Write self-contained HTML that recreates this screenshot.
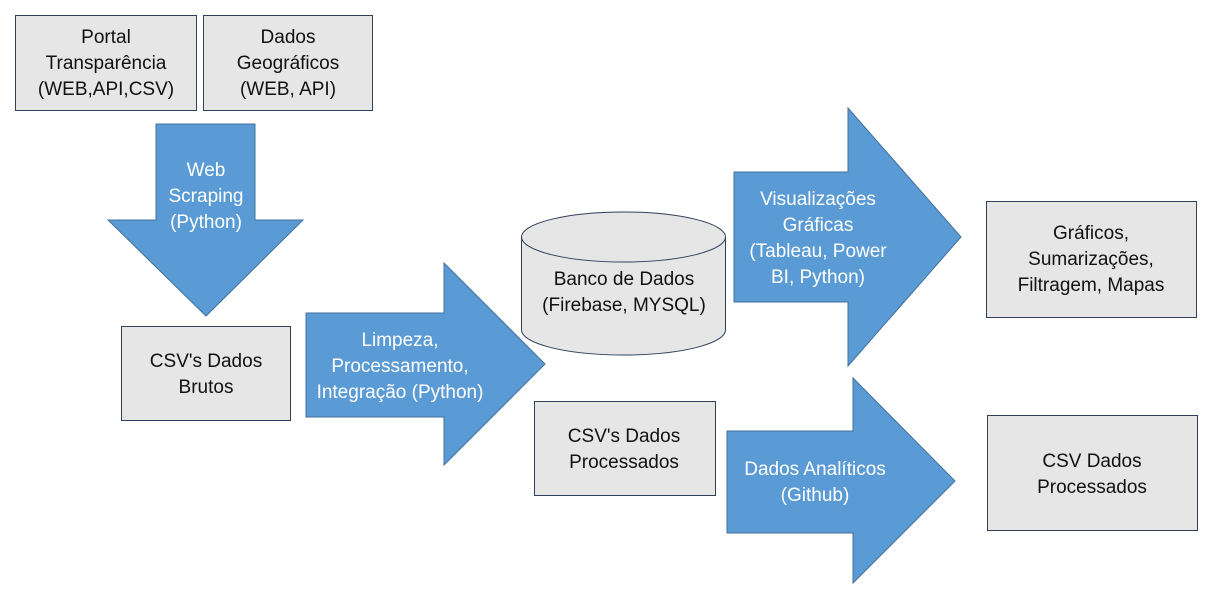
<!DOCTYPE html>
<html><head><meta charset="utf-8"><style>
html,body{margin:0;padding:0;background:#fff;}
svg{display:block;font-family:"Liberation Sans",Arial,sans-serif;}
.b{fill:#e7e6e6;stroke:#2f3f5a;stroke-width:1;}
.a{fill:#5b9bd5;stroke:#41719c;stroke-width:1;}
.t{font-size:19px;fill:#111;text-anchor:middle;}
.w{font-size:19px;fill:#fff;text-anchor:middle;}
</style></head><body>
<svg width="1221" height="593" viewBox="0 0 1221 593">
<rect x="0" y="0" width="1221" height="593" fill="#fff"/>
<rect class="b" x="15.5" y="15.5" width="181" height="95"/>
<text class="t" x="106" y="43">Portal</text>
<text class="t" x="106" y="69">Transparência</text>
<text class="t" x="106" y="95">(WEB,API,CSV)</text>
<rect class="b" x="203.5" y="15.5" width="169" height="95"/>
<text class="t" x="288" y="43">Dados</text>
<text class="t" x="288" y="69">Geográficos</text>
<text class="t" x="288" y="95">(WEB, API)</text>

<polygon class="a" points="156,124 255,124 255,220 303,220 206,316 108,220 156,220"/>
<text class="w" x="206" y="176">Web</text>
<text class="w" x="206" y="202">Scraping</text>
<text class="w" x="206" y="228">(Python)</text>

<rect class="b" x="121.5" y="326.5" width="169" height="94"/>
<text class="t" x="206" y="367">CSV's Dados</text>
<text class="t" x="206" y="393">Brutos</text>

<polygon class="a" points="306,313 444,313 444,263 545,364 444,465 444,417 306,417"/>
<text class="w" x="400" y="346">Limpeza,</text>
<text class="w" x="400" y="372">Processamento,</text>
<text class="w" x="400" y="398">Integração (Python)</text>

<path class="b" d="M521.5,237 L521.5,330 A102,25 0 0 0 725.5,330 L725.5,237"/>
<ellipse class="b" cx="623.5" cy="237" rx="102" ry="25"/>
<text class="t" x="624" y="285">Banco de Dados</text>
<text class="t" x="624" y="311">(Firebase, MYSQL)</text>

<polygon class="a" points="734,172 848,172 848,108 961,237 848,366 848,302 734,302"/>
<text class="w" x="818" y="205">Visualizações</text>
<text class="w" x="818" y="231">Gráficas</text>
<text class="w" x="818" y="257">(Tableau, Power</text>
<text class="w" x="818" y="283">BI, Python)</text>

<rect class="b" x="986.5" y="201.5" width="210" height="116"/>
<text class="t" x="1091" y="239">Gráficos,</text>
<text class="t" x="1091" y="265">Sumarizações,</text>
<text class="t" x="1091" y="291">Filtragem, Mapas</text>

<rect class="b" x="534.5" y="401.5" width="181" height="94"/>
<text class="t" x="624" y="442">CSV's Dados</text>
<text class="t" x="624" y="468">Processados</text>

<polygon class="a" points="727,431 853,431 853,378 955,481 853,583 853,533 727,533"/>
<text class="w" x="815" y="475">Dados Analíticos</text>
<text class="w" x="815" y="501">(Github)</text>

<rect class="b" x="987.5" y="415.5" width="210" height="115"/>
<text class="t" x="1092" y="467">CSV Dados</text>
<text class="t" x="1092" y="493">Processados</text>
</svg>
</body></html>
